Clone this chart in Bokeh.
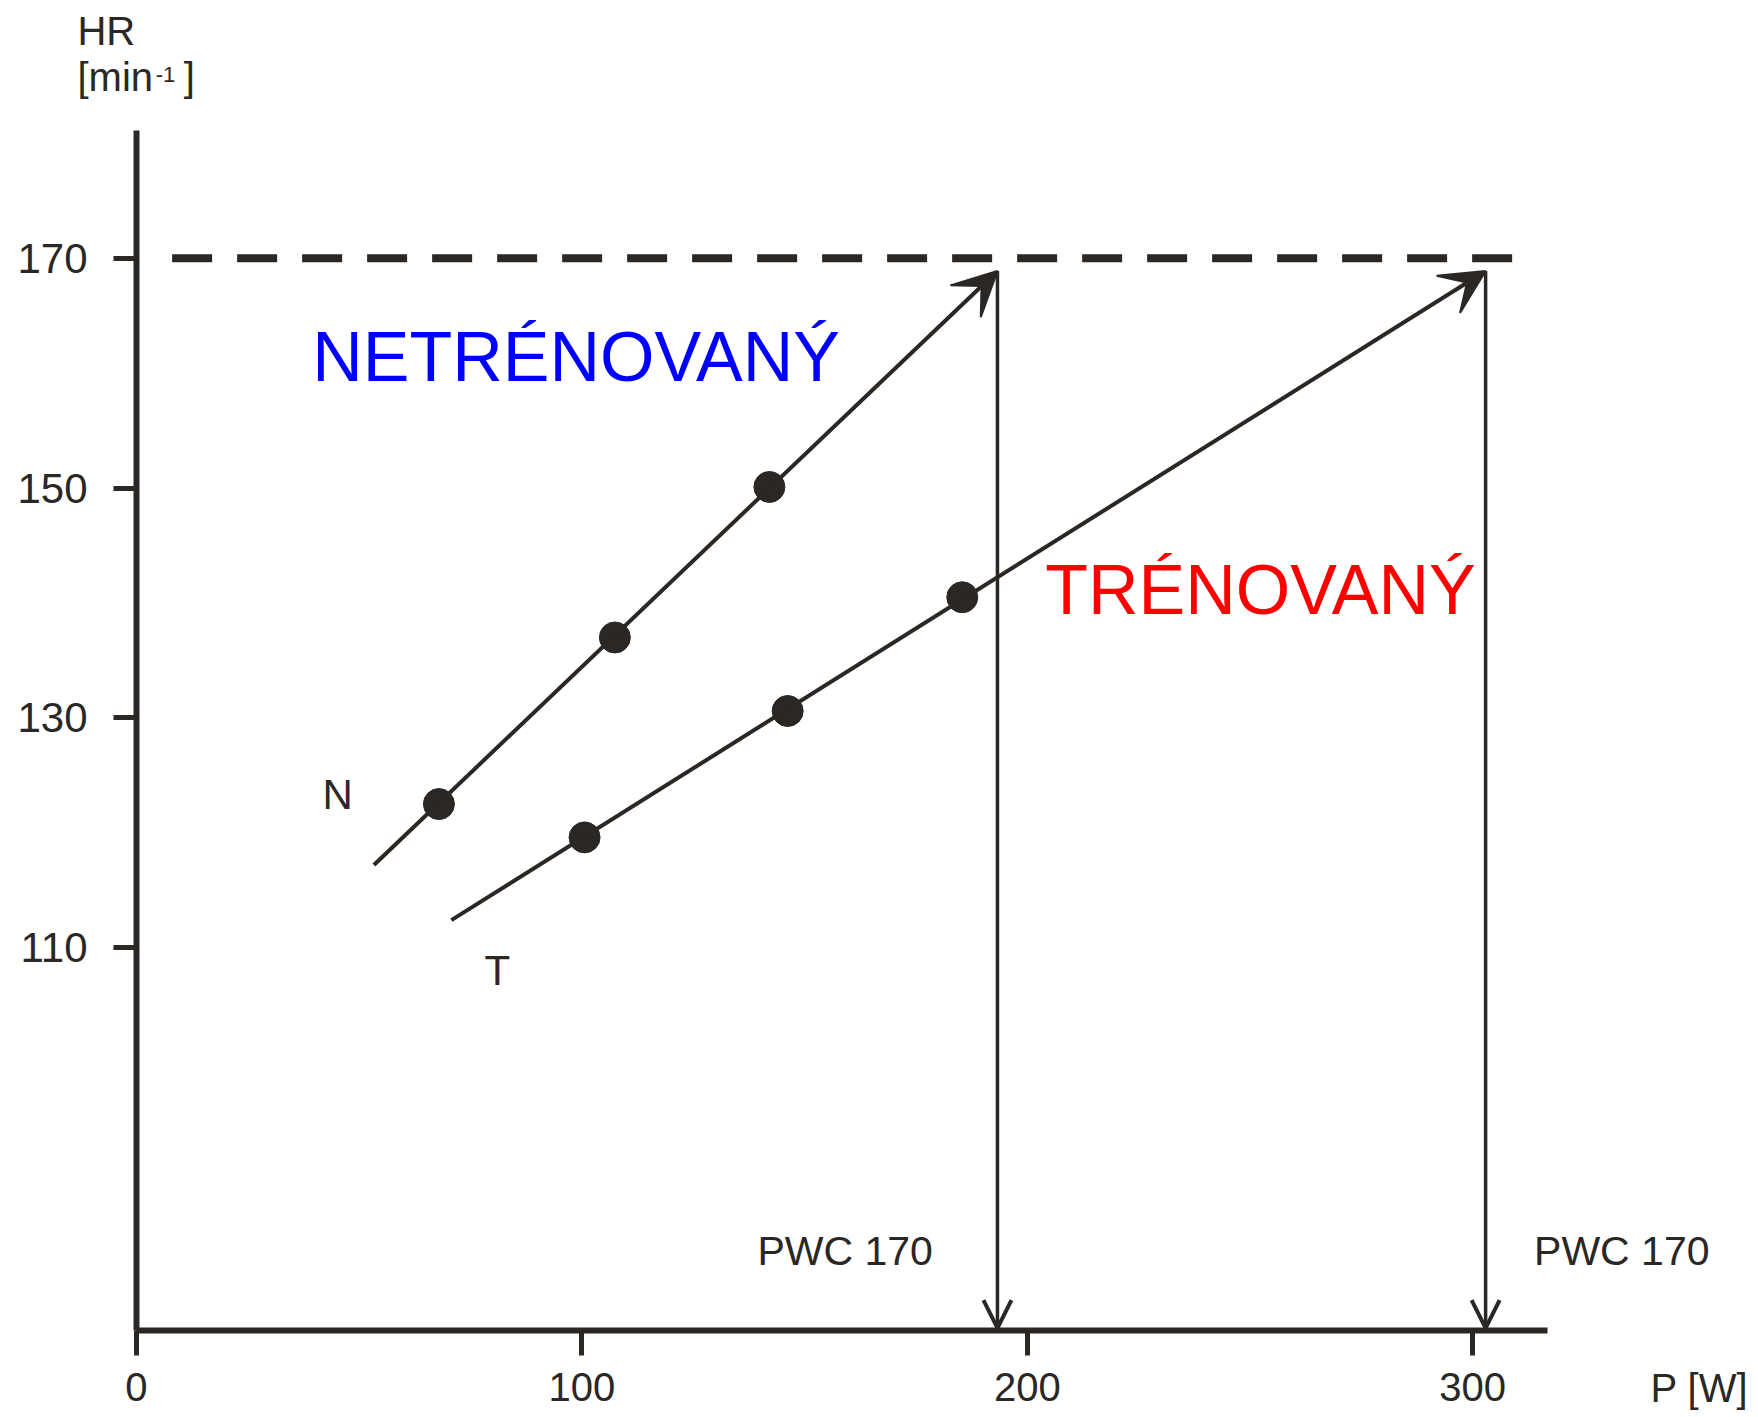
from bokeh.plotting import figure
from bokeh.models import (Range1d, FixedTicker, Label, Arrow, VeeHead, OpenHead,
                          LinearAxis)
from bokeh.embed import file_html
from bokeh.resources import INLINE

# ---------------- data ----------------
# untrained subject (N): measured points, HR [1/min] vs power [W]
n_power = [67.9, 107.4, 142.1]
n_hr = [122.5, 137.0, 150.1]
# trained subject (T)
t_power = [100.6, 146.2, 185.4]
t_hr = [119.6, 130.6, 140.5]
# extrapolation lines (start, end at HR 170)
n_line_power = [53.3, 193.3]
n_line_hr = [117.2, 168.9]
t_line_power = [70.7, 302.9]
t_line_hr = [112.4, 168.9]
# PWC 170 values
pwc_power = [193.3, 302.9]
# HR 170 limit line
limit_hr = [170, 170]
limit_power = [8.0, 310.7]
# axes
x_ticks = [0, 100, 200, 300]
y_ticks = [110, 130, 150, 170]
x_axis_extent = (0, 316.8)
y_axis_extent = (76.684, 181.1)

DARK = "#2b2724"
FONT = "Liberation Sans"

p = figure(width=1756, height=1415,
           x_range=Range1d(-30.534, 363.72), y_range=Range1d(69.286, 192.437),
           output_backend="svg", toolbar_location=None,
           x_axis_location=None, y_axis_location=None,
           min_border_left=0, min_border_right=0,
           min_border_top=0, min_border_bottom=0)
p.grid.visible = False
p.outline_line_color = None
p.background_fill_color = "white"
p.border_fill_color = "white"

xa = LinearAxis(ticker=FixedTicker(ticks=x_ticks), bounds=x_axis_extent,
                fixed_location=y_axis_extent[0])
ya = LinearAxis(ticker=FixedTicker(ticks=y_ticks), bounds=y_axis_extent,
                fixed_location=x_axis_extent[0])
for ax in (xa, ya):
    ax.axis_line_color = DARK
    ax.axis_line_width = 6
    ax.major_tick_line_color = DARK
    ax.major_tick_line_width = 5
    ax.major_tick_in = 0
    ax.minor_tick_in = 0
    ax.minor_tick_out = 0
    ax.major_label_text_font = FONT
    ax.major_label_text_color = DARK
xa.major_label_text_font_size = "40px"
ya.major_label_text_font_size = "42px"
xa.major_tick_out = 25
xa.major_label_standoff = 18
ya.major_tick_out = 23
ya.major_label_standoff = 26
p.add_layout(xa, "below")
p.add_layout(ya, "left")

# dashed HR 170 line
p.line(limit_power, limit_hr, line_color=DARK, line_width=8,
       line_dash="40 25")

# extrapolation arrows
for xs, ys in ((n_line_power, n_line_hr), (t_line_power, t_line_hr)):
    p.add_layout(Arrow(end=VeeHead(size=44, fill_color=DARK, line_color=DARK,
                                   line_width=2),
                       x_start=xs[0], y_start=ys[0], x_end=xs[1], y_end=ys[1],
                       line_color=DARK, line_width=4))

# vertical PWC arrows down to the x axis
for pw, top in zip(pwc_power, (n_line_hr[1], t_line_hr[1])):
    p.add_layout(Arrow(end=OpenHead(size=28, line_color=DARK, line_width=4),
                       x_start=pw, y_start=top, x_end=pw,
                       y_end=y_axis_extent[0] + 0.2,
                       line_color=DARK, line_width=3.5))

# measured points
p.scatter(n_power, n_hr, marker="circle", size=31, color=DARK)
p.scatter(t_power, t_hr, marker="circle", size=31, color=DARK)


def lab(x, y, text, size, color=DARK):
    p.add_layout(Label(x=x, y=y, text=text, text_font=FONT,
                       text_font_size=f"{size}px", text_color=color,
                       text_baseline="middle", text_align="left"))


lab(-13.25, 189.74, "HR", 40)
lab(-13.25, 185.82, "[min", 40)
lab(4.3, 185.97, "-1", 22)
lab(10.6, 185.82, "]", 40)
lab(41.76, 123.31, "N", 42)
lab(78.13, 107.99, "T", 42)
lab(39.45, 161.41, "NETRÉNOVANÝ", 70, "#0000ff")
lab(204.04, 141.11, "TRÉNOVANÝ", 70, "#ff0000")
lab(139.42, 83.59, "PWC 170", 41)
lab(313.78, 83.59, "PWC 170", 41)
lab(339.92, 71.64, "P [W]", 40)

open("out.html", "w").write(file_html(p, INLINE))
